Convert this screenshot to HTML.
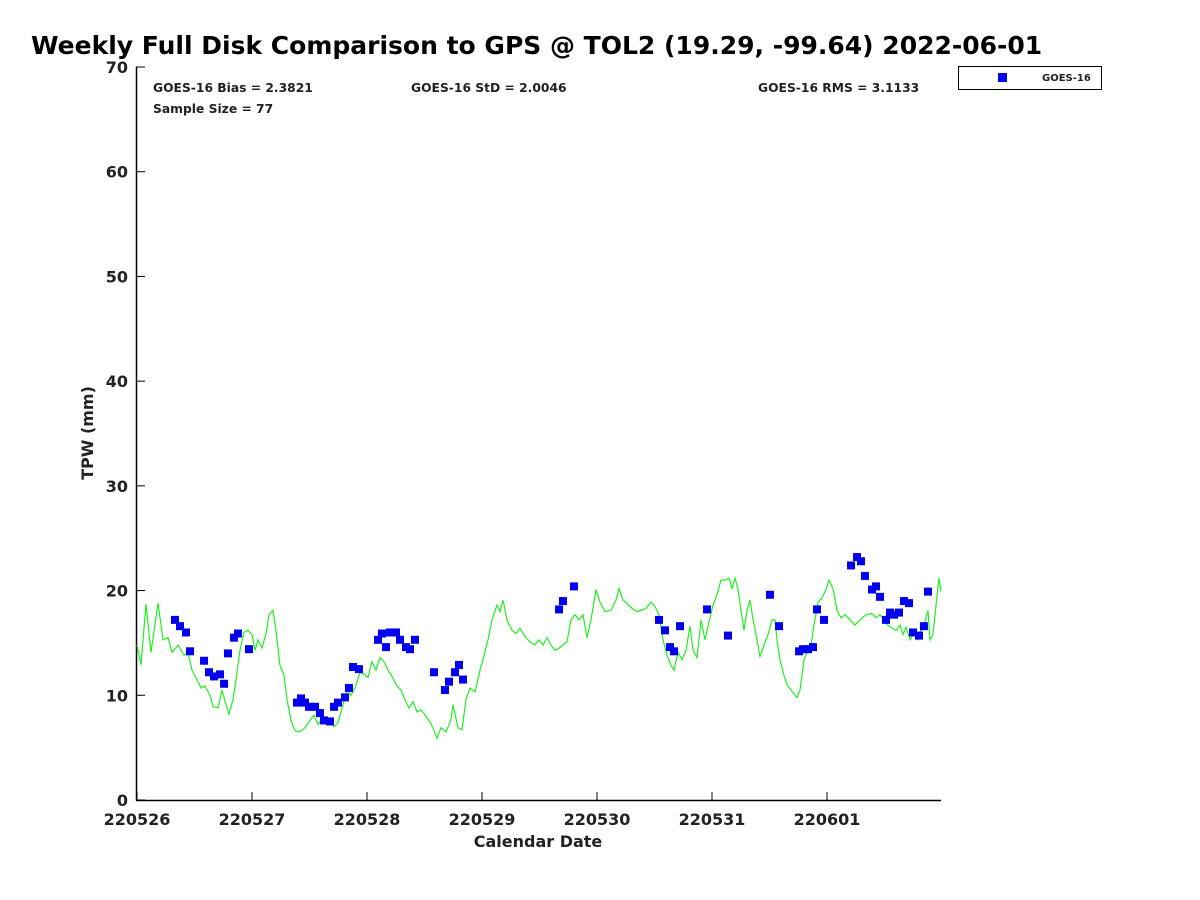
<!DOCTYPE html>
<html><head><meta charset="utf-8"><style>
body{margin:0;background:#fff;}
svg{display:block;font-family:"DejaVu Sans","Liberation Sans",sans-serif;}
</style></head><body>
<svg id="chart" width="1200" height="900" viewBox="0 0 1200 900">
<rect width="1200" height="900" fill="#fff"/>
<text x="31" y="54" font-size="25" font-weight="bold" fill="#000">Weekly Full Disk Comparison to GPS @ TOL2 (19.29, -99.64) 2022-06-01</text>
<g id="axes"></g>
<g id="line"></g>
<g id="pts"></g>
<g font-size="12.3" font-weight="bold" fill="#222">
<text x="153" y="92">GOES-16 Bias = 2.3821</text>
<text x="411" y="92">GOES-16 StD = 2.0046</text>
<text x="758" y="92">GOES-16 RMS = 3.1133</text>
<text x="153" y="113">Sample Size = 77</text>
</g>
<g>
<rect x="958.5" y="66.5" width="143" height="23" fill="#fff" stroke="#000" stroke-width="1"/>
<rect x="998" y="73" width="9" height="9" fill="#0000ee"/>
<text x="1042" y="81" font-size="10" font-weight="bold" fill="#222">GOES-16</text>
</g>
<text transform="translate(93,433) rotate(-90)" text-anchor="middle" font-size="16" font-weight="bold" fill="#222">TPW (mm)</text>
<text x="538" y="847" text-anchor="middle" font-size="16" font-weight="bold" fill="#222">Calendar Date</text>
</svg>
<script>
const xTickLabels=["220526","220527","220528","220529","220530","220531","220601"];
const yTickValues=[0,10,20,30,40,50,60,70];
const lineDays=[0,.035,.078,.122,.183,.226,.270,.304,.357,.409,.443,.478,.522,.557,.591,.635,.661,.704,.739,.774,.800,.835,.861,.896,.930,.965,1.0,1.026,1.052,1.087,1.122,1.148,1.183,1.209,1.243,1.278,1.304,1.339,1.374,1.417,1.461,1.504,1.539,1.574,1.609,1.643,1.678,1.713,1.748,1.791,1.826,1.861,1.896,1.939,1.974,2.009,2.043,2.078,2.113,2.148,2.183,2.217,2.261,2.296,2.330,2.365,2.400,2.435,2.470,2.504,2.539,2.574,2.609,2.643,2.687,2.730,2.748,2.791,2.826,2.861,2.896,2.939,2.983,3.017,3.052,3.087,3.130,3.157,3.183,3.217,3.261,3.296,3.330,3.374,3.417,3.461,3.496,3.530,3.565,3.600,3.635,3.670,3.704,3.739,3.774,3.809,3.843,3.878,3.913,3.948,3.991,4.026,4.070,4.122,4.165,4.191,4.226,4.270,4.304,4.348,4.383,4.426,4.470,4.504,4.539,4.574,4.609,4.643,4.670,4.704,4.739,4.774,4.809,4.835,4.870,4.904,4.939,4.974,5.009,5.043,5.078,5.113,5.148,5.174,5.200,5.226,5.252,5.278,5.304,5.330,5.357,5.391,5.417,5.452,5.487,5.522,5.548,5.565,5.591,5.626,5.652,5.687,5.722,5.739,5.765,5.800,5.835,5.861,5.887,5.922,5.957,5.991,6.017,6.052,6.087,6.122,6.157,6.200,6.243,6.287,6.339,6.391,6.426,6.461,6.496,6.530,6.565,6.600,6.635,6.661,6.687,6.722,6.757,6.783,6.809,6.843,6.878,6.896,6.922,6.948,6.974,6.991];
const lineTPW=[14.8,12.9,18.7,14.1,18.8,15.3,15.5,14.1,14.8,13.8,14.1,12.4,11.5,10.7,10.9,10.0,8.9,8.8,10.5,9.1,8.2,9.6,11.5,14.3,16.0,16.2,15.8,14.3,15.3,14.5,15.9,17.7,18.1,16.2,12.9,11.9,9.6,7.6,6.6,6.5,6.9,7.6,8.1,7.2,7.8,7.4,7.8,7.0,7.4,9.1,10.5,10.0,10.7,12.2,12.0,11.7,13.2,12.4,13.6,13.2,12.4,11.8,10.9,10.5,9.6,8.8,9.4,8.4,8.6,8.1,7.6,6.9,5.9,6.9,6.5,7.6,9.1,6.9,6.7,9.6,10.7,10.3,12.4,13.8,15.3,17.2,18.6,18.0,19.1,17.2,16.2,15.9,16.4,15.6,15.1,14.8,15.3,14.8,15.5,14.8,14.3,14.5,14.8,15.1,17.2,17.7,17.2,17.7,15.5,17.2,20.1,18.9,18.0,18.1,19.1,20.2,19.1,18.7,18.3,18.0,18.1,18.3,18.9,18.5,17.7,15.3,13.8,12.9,12.4,14.1,13.4,14.3,16.6,14.3,13.6,17.2,15.3,17.0,18.6,19.6,21.0,21.0,21.2,20.2,21.2,20.1,18.1,16.2,18.1,19.1,17.2,15.3,13.7,14.8,15.8,17.2,17.2,15.3,13.4,11.9,11.0,10.5,10.0,9.8,10.5,13.4,14.3,14.8,16.7,18.9,19.3,20.1,21.0,20.2,18.1,17.4,17.7,17.2,16.7,17.2,17.7,17.8,17.4,17.7,17.2,16.7,16.4,16.2,16.7,15.8,16.5,15.3,16.0,15.3,16.0,16.7,18.1,15.3,15.8,18.6,21.2,19.9];
const ptDays=[.330,.374,.426,.461,.583,.626,.670,.722,.757,.791,.843,.878,.974,1.391,1.426,1.461,1.496,1.548,1.591,1.626,1.678,1.713,1.748,1.809,1.843,1.878,1.930,2.096,2.130,2.165,2.200,2.252,2.287,2.339,2.374,2.417,2.583,2.678,2.713,2.765,2.800,2.835,3.670,3.704,3.800,4.539,4.591,4.635,4.670,4.722,4.957,5.139,5.504,5.583,5.757,5.791,5.835,5.878,5.913,5.974,6.209,6.261,6.296,6.330,6.391,6.426,6.461,6.513,6.548,6.583,6.626,6.670,6.713,6.748,6.800,6.843,6.878];
const ptTPW=[17.2,16.6,16.0,14.2,13.3,12.2,11.8,12.0,11.1,14.0,15.5,15.9,14.4,9.3,9.7,9.3,8.9,8.9,8.3,7.6,7.5,8.9,9.3,9.8,10.7,12.7,12.5,15.3,15.9,14.6,16.0,16.0,15.3,14.6,14.4,15.3,12.2,10.5,11.3,12.2,12.9,11.5,18.2,19.0,20.4,17.2,16.2,14.6,14.2,16.6,18.2,15.7,19.6,16.6,14.2,14.4,14.4,14.6,18.2,17.2,22.4,23.2,22.8,21.4,20.1,20.4,19.4,17.2,17.9,17.7,17.9,19.0,18.8,16.0,15.7,16.6,19.9];

const NS="http://www.w3.org/2000/svg";
const X0=137,DX=115,Y0=800,YMAX=70,YTOP=67,XR=941;
function xs(d){return X0+d*DX;}
function ys(v){return Y0-(v/YMAX)*(Y0-YTOP);}
function mk(tag,attrs,parent){const e=document.createElementNS(NS,tag);for(const k in attrs)e.setAttribute(k,attrs[k]);parent.appendChild(e);return e;}
const ax=document.getElementById('axes');
const xl=mk('line',{x1:136.5,y1:YTOP,x2:136.5,y2:Y0+0.5,stroke:'#000','stroke-width':1.5},ax);


const bl=mk('line',{x1:136,y1:Y0+0.5,x2:XR,y2:Y0+0.5,stroke:'#000','stroke-width':1.5},ax);


yTickValues.forEach(v=>{
  const y=ys(v);
  const t=mk('line',{x1:136,y1:y,x2:145,y2:y,stroke:'#000','stroke-width':1},ax);
  
  
  const tx=mk('text',{x:128,y:y+6,'text-anchor':'end','font-size':16,'font-weight':'bold',fill:'#222'},ax);
  tx.textContent=v;
  
  
});
xTickLabels.forEach((lab,i)=>{
  const x=xs(i);
  const t=mk('line',{x1:x,y1:Y0,x2:x,y2:Y0-8,stroke:'#000','stroke-width':1},ax);
  
  
  const tx=mk('text',{x:x,y:825,'text-anchor':'middle','font-size':16,'font-weight':'bold',fill:'#222'},ax);
  tx.textContent=lab;
  
  
});
const lg=document.getElementById('line');
const pts=lineDays.map((d,i)=>xs(d).toFixed(1)+','+ys(lineTPW[i]).toFixed(1)).join(' ');
const pl=mk('polyline',{points:pts,fill:'none',stroke:'#22ee22','stroke-width':1.2},lg);


const pg=document.getElementById('pts');
ptDays.forEach((d,i)=>{
  const r=mk('rect',{x:xs(d)-4,y:ys(ptTPW[i])-4,width:8,height:8,fill:'#0000ee'},pg);
  
  
});
</script>
</body></html>
